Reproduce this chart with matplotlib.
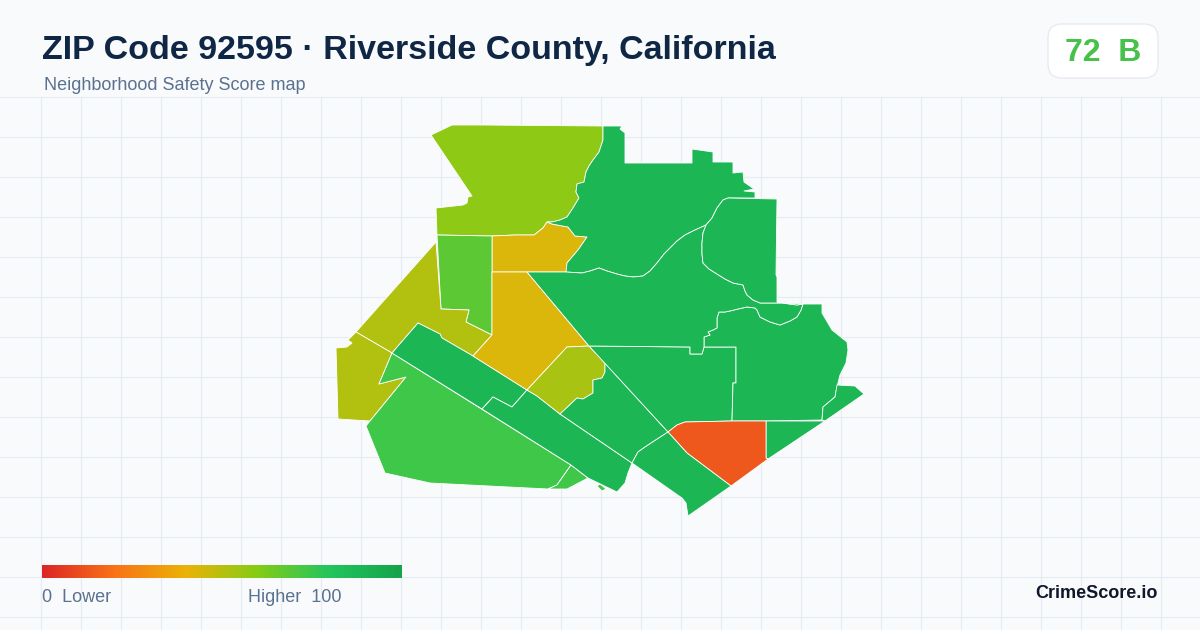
import numpy as np
import matplotlib
matplotlib.use("Agg")
import matplotlib.pyplot as plt
from matplotlib.colors import LinearSegmentedColormap
from matplotlib.patches import FancyBboxPatch

plt.rcParams['font.family'] = ['Liberation Sans', 'DejaVu Sans']

# shared curved borders in pixels
hills_edge = [(603,126),(603,140),(599,152),(593,160),(589,166),(586,172),(584,182),(577,184),(576,192),(579,198),(573,208),(567,217),(560,220),(552,222),(547,222)]
north_edge = [(566,272),(582,273),(590,271),(599,268),(607,271),(617,274),(625,276),(633,277),(643,276),(650,271),(657,263),(664,254),(670,248),(677,241),(685,235),(695,230),(706,225)]
box_west_edge = [(706,225),(703,233),(702,243),(702,254),(703,263),(709,269),(717,274),(725,279),(733,283),(743,285),(745,291),(747,295),(753,300),(760,303),(782,303),(797,305),(803,304)]
box_north_arc = [(706,225),(712,218),(715,212),(717,208),(720,204),(723,200),(728,198)]
east_edge = [(704,347),(704,337),(710,335),(708,332),(713,330),(717,328),(717,318),(719,312),(725,312),(730,311),(738,309),(747,307),(755,308),(757,310),(760,317),(770,322),(780,325),(790,321),(797,317),(801,310),(803,304)]

# tract outlines
north_hills = [(431,135),(452,125),(483,125)] + hills_edge + [(543,228),(534,235),(515,235),(492,236),(437,235),(436,208),(463,205),(467,203),(468,197),(472,196)]
upper_yellow = [(492,236),(515,235),(534,235),(543,228),(547,222),(552,224),(568,227),(575,236),(587,237),(578,250),(567,263),(566,272),(492,272)]
narrow_green = [(437,235),(492,236),(492,272),(492,335),(466,322),(469,310),(441,309)]
west_strip = [(436,242),(441,309),(469,310),(466,322),(492,335),(473,356),(442,338),(440,334),(418,323),(392,353),(356,332)]
southwest_olive = [(356,332),(348,340),(352,343),(347,347),(336,348),(338,419),(370,421),(406,377),(379,384),(392,353)]
south_green = [(392,353),(379,384),(406,377),(370,421),(366,426),(385,473),(430,483),(548,489),(557,485),(571,465)]
south_small = [(571,465),(588,478),(567,489),(548,489),(557,485)]
south_speck = [(597,486),(600,484),(606,489),(602,491)]
strip_one = [(392,353),(418,323),(440,334),(442,338),(473,356),(527,390),(512,407),(493,397),(482,409)]
strip_two = [(482,409),(493,397),(512,407),(527,390),(537,396),(560,414),(632,463),(628,473),(625,483),(617,492),(588,478),(571,465)]
middle_yellow = [(492,272),(527,272),(589,346),(567,347),(527,390),(473,356),(492,335)]
middle_lime = [(567,347),(589,346),(605,363),(605,372),(602,378),(593,380),(593,393),(583,399),(577,398),(560,414),(537,396),(527,390)]
middle_green = [(605,363),(668,432),(645,447),(638,452),(632,463),(560,414),(577,398),(583,399),(593,393),(593,380),(602,378),(605,372)]
center_box = [(589,346),(690,347),(690,354),(702,354),(704,347),(736,347),(736,383),(733,383),(732,421),(685,422),(677,425),(668,432)]
east_block = east_edge + [(822,304),(822,313),(832,330),(847,342),(848,350),(846,363),(840,375),(837,387),(835,397),(823,407),(822,420),(766,421),(732,421),(733,383),(736,383),(736,347)]
southeast_tip = [(837,385),(855,386),(864,394),(825,421),(822,420),(823,407),(835,397)]
coast_box = [(766,421),(825,421),(768,459),(766,458)]
red_tract = [(668,432),(677,425),(685,422),(732,421),(766,421),(766,458),(768,459),(731,486),(687,453)]
coast_south = [(668,432),(687,453),(731,486),(688,516),(686,503),(682,498),(632,463),(638,452),(645,447)]
north_big = [(603,126),(622,126),(620,129),(625,133),(625,163),(692,163),(692,149),(713,152),(713,162),(733,162),(733,173),(743,172),(744,182),(754,189),(744,191),(755,192),(755,198),(728,198)] + box_north_arc[::-1][1:] + north_edge[::-1][1:] + [(567,263),(578,250),(587,237),(575,236),(568,227),(552,224)] + hills_edge[::-1][:-1]
center_north = [(527,272)] + north_edge + box_west_edge[1:] + east_edge[::-1][1:-1] + [(704,347),(702,354),(690,354),(690,347),(589,346)]
northeast_box = box_north_arc + [(777,199),(776,275),(777,277),(777,302),(787,303),(803,304)] + box_west_edge[::-1][1:-1]

tracts = [north_hills, upper_yellow, narrow_green, west_strip, southwest_olive, south_green, south_small, south_speck,
          strip_one, strip_two, middle_yellow, middle_lime, middle_green, center_box, east_block, southeast_tip,
          coast_box, red_tract, coast_south, north_big, center_north, northeast_box]
scores = [58, 43, 68, 51, 51, 74, 74, 74,
          89, 89, 43, 53, 89, 89, 89, 89,
          89, 13, 89, 89, 89, 89]

stops = [0, 0.2, 0.4, 0.6, 0.8, 1]
stop_colors = ['#dc2626', '#f97316', '#eab308', '#84cc16', '#22c55e', '#16a34a']
cmap = LinearSegmentedColormap.from_list('score', list(zip(stops, stop_colors)))

fig = plt.figure(figsize=(12, 6.3), dpi=100, facecolor='#f8fafc')
ax = fig.add_axes([0, 0, 1, 1])
ax.set_xlim(0, 1200)
ax.set_ylim(630, 0)
ax.axis('off')

# background grid starts under the header
for x in np.arange(40.5, 1200, 40):
    ax.plot([x, x], [97, 630], color='#e3edf2', lw=0.85, zorder=1)
for y in np.arange(96.5, 630, 40):
    ax.plot([0, 1200], [y, y], color='#e3edf2', lw=0.85, zorder=1)

for tract, score in zip(tracts, scores):
    xs, ys = zip(*tract)
    ax.fill(xs, ys, facecolor=cmap(score / 100), edgecolor='white', lw=0.6, joinstyle='round', zorder=2)

# header
ax.text(42, 50, 'ZIP Code 92595 · Riverside County, California', fontsize=24.48, fontweight='bold',
        color='#0f2744', va='center', ha='left')
ax.text(44, 86, 'Neighborhood Safety Score map', fontsize=12.96, color='#5b7190', va='center', ha='left')

badge = FancyBboxPatch((1062, 38), 82, 26, boxstyle='round,pad=14,rounding_size=14',
                       facecolor='white', edgecolor='#e2e8f0', lw=0.8, zorder=3)
ax.add_patch(badge)
ax.text(1103, 53, '72  B', fontsize=23, fontweight='bold', color='#46c24b', va='center', ha='center', zorder=4)

# legend
gradient = np.linspace(0, 1, 360).reshape(1, -1)
ax.imshow(gradient, cmap=cmap, extent=(42, 402, 578, 565), aspect='auto', zorder=3)
ax.set_xlim(0, 1200)
ax.set_ylim(630, 0)
ax.text(42, 598, '0  Lower', fontsize=12.96, color='#5b7190', va='center', ha='left')
ax.text(342, 598, 'Higher  100', fontsize=12.96, color='#5b7190', va='center', ha='right')
ax.text(1158, 594, 'CrimeScore.io', fontsize=13, fontweight='bold', color='#0f172a', va='center', ha='right')

fig.savefig('out.png', dpi=100, facecolor=fig.get_facecolor())
